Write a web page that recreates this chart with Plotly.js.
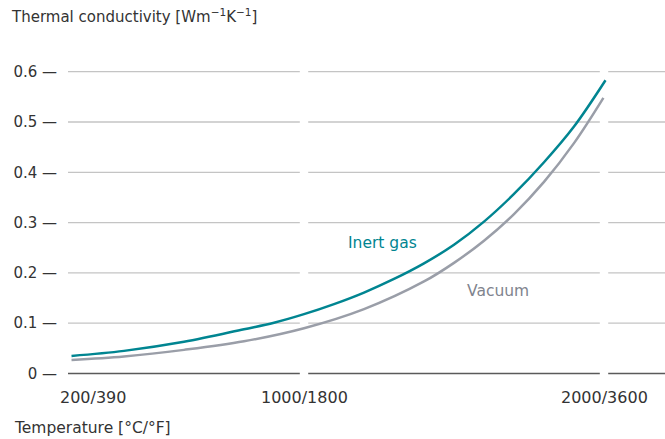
<!DOCTYPE html>
<html>
<head>
<meta charset="utf-8">
<script src="https://cdn.plot.ly/plotly-3.0.1.min.js"></script>
<style>html,body{margin:0;padding:0;background:#fff;}#chart{width:665px;height:439px;}</style>
</head>
<body>
<div id="chart"></div>
<script>
// Temperature in °C, conductivity in W/(m·K)
const inertT = [225, 400, 600, 800, 900, 1000, 1100, 1200, 1300, 1400, 1500, 1600, 1700, 1800, 1900, 2005];
const inertK = [0.035, 0.045, 0.063, 0.088, 0.101, 0.118, 0.138, 0.161, 0.188, 0.219, 0.256, 0.302, 0.357, 0.420, 0.491, 0.583];
const vacuumT = [225, 400, 600, 800, 1000, 1200, 1400, 1500, 1600, 1700, 1800, 1900, 1998];
const vacuumK = [0.027, 0.034, 0.047, 0.064, 0.090, 0.128, 0.183, 0.220, 0.264, 0.317, 0.381, 0.458, 0.548];
const seriesNames = ["Inert gas", "Vacuum"];
const xTickVals = [200, 1000, 2000];
const xTickText = ["200/390", "1000/1800", "2000/3600"];
const yTickVals = [0, 0.1, 0.2, 0.3, 0.4, 0.5, 0.6];
const yTickText = ["0", "0.1", "0.2", "0.3", "0.4", "0.5", "0.6"];
const gapVals = [1000, 2000];

const FONT = "'DejaVu Sans', Roboto, sans-serif";
const TEAL = "#008591";
const GREY = "#9a9ea8";
const TXT = "#333333";
const XR = [213.3, 2203.3];
const YR = [-0.0129, 0.6233];

const traces = [
  {x: inertT, y: inertK, mode: "lines", name: seriesNames[0], line: {color: TEAL, width: 2.5, shape: "spline"}, hoverinfo: "skip"},
  {x: vacuumT, y: vacuumK, mode: "lines", name: seriesNames[1], line: {color: GREY, width: 2.5, shape: "spline"}, hoverinfo: "skip"}
];

// gridline segments, broken at the gap positions
const HALF = 14;
const bounds = [XR[0]];
gapVals.forEach(g => { bounds.push(g - HALF); bounds.push(g + HALF); });
bounds.push(XR[1]);
const shapes = [];
yTickVals.forEach(v => {
  for (let i = 0; i < bounds.length; i += 2) {
    shapes.push({type: "line", xref: "x", yref: "y", x0: bounds[i], x1: bounds[i + 1], y0: v, y1: v,
      line: {color: v === 0 ? "#5a5a5a" : "#c4c4c4", width: v === 0 ? 1.6 : 1.3}, layer: "below"});
  }
});

const xShift = [29, 0, 0];
const annotations = xTickText.map((t, i) => ({
  x: (xTickVals[i] - XR[0]) / (XR[1] - XR[0]), xref: "paper", y: 0, yref: "paper", yshift: -17, xshift: xShift[i],
  text: t, showarrow: false, xanchor: "center", yanchor: "middle",
  font: {family: FONT, size: 16, color: TXT}
}));
annotations.push(
  {x: 1263, y: 0.259, xref: "x", yref: "y", text: seriesNames[0], showarrow: false,
   font: {family: FONT, size: 15.5, color: TEAL}},
  {x: 1647, y: 0.164, xref: "x", yref: "y", text: seriesNames[1], showarrow: false,
   font: {family: FONT, size: 15.5, color: "#7f848e"}},
  {x: 0, xref: "paper", xshift: -56, xanchor: "left", y: 0, yref: "paper", yshift: -48, yanchor: "middle",
   text: "Temperature [°C/°F]", showarrow: false, font: {family: FONT, size: 15.5, color: TXT}}
);

const layout = {
  width: 665, height: 439,
  margin: {l: 68, r: 0, t: 60, b: 59},
  paper_bgcolor: "#ffffff", plot_bgcolor: "#ffffff",
  showlegend: false,
  font: {family: FONT, size: 15, color: TXT},
  title: {text: "Thermal conductivity [Wm<sup>−1</sup>K<sup>−1</sup>]", x: 12 / 665, xref: "container", xanchor: "left",
          y: 1 - 17 / 439, yref: "container", yanchor: "middle", font: {family: FONT, size: 15, color: TXT}},
  xaxis: {range: XR, showticklabels: false, ticks: "", showgrid: false, zeroline: false, showline: false, fixedrange: true},
  yaxis: {range: YR, tickvals: yTickVals, ticktext: yTickText.map(t => t + " —"), ticklabelstandoff: 10,
          showgrid: false, zeroline: false, showline: false, ticks: "",
          tickfont: {family: FONT, size: 15, color: TXT}, fixedrange: true},
  shapes: shapes,
  annotations: annotations
};

Plotly.newPlot("chart", traces, layout, {staticPlot: true});
</script>
</body>
</html>
